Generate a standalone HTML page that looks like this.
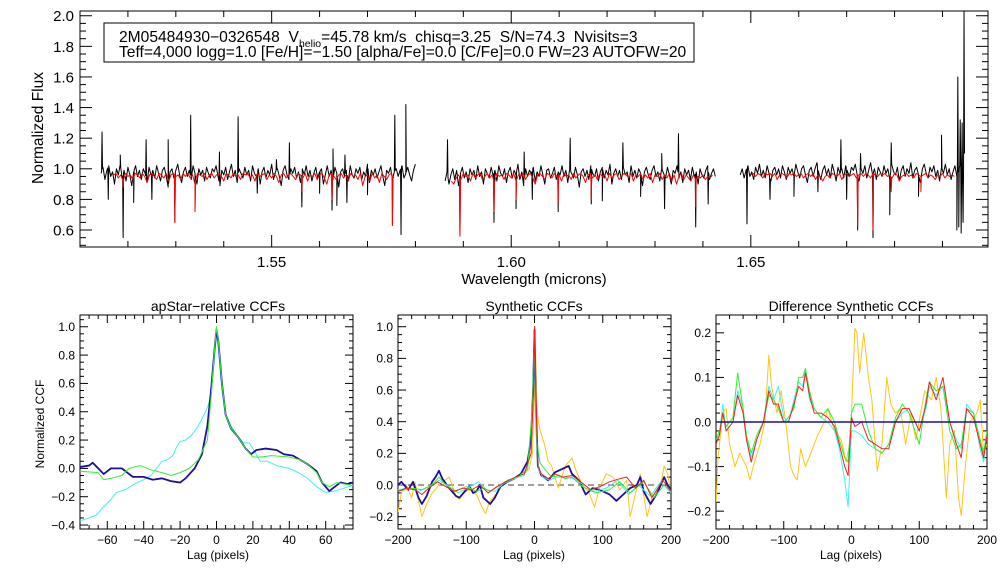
<!DOCTYPE html>
<html><head><meta charset="utf-8"><style>
html,body{margin:0;padding:0;background:#fff;}
svg{display:block;font-family:"Liberation Sans",sans-serif;}
</style></head><body>
<svg id="c" width="1008" height="576" viewBox="0 0 1008 576"></svg>
<script>
// ---------- Spectrum data (step in microns per chip) ----------
const blackStep=0.0004, redStep=0.0005;
const chip1Start=1.5144, chip1Black=[0.97,1.01,0.93,0.99,1.02,0.95,0.98,0.90,1.00,0.96,1.03,0.94,0.99,0.92,1.01,
0.96,0.89,0.98,1.02,0.95,0.99,0.93,1.00,0.97,0.91,1.01,0.96,0.99,0.94,1.02,
0.97,0.92,0.99,1.01,0.95,0.88,0.98,1.00,0.94,0.99,1.03,0.96,0.91,0.98,1.01,
0.95,0.99,0.93,1.02,0.97,0.90,1.00,0.96,0.99,0.92,1.01,0.97,0.94,1.00,0.98,
1.02,0.95,0.89,0.99,0.96,1.01,0.93,0.98,1.03,0.95,0.99,0.91,1.00,0.97,0.94,
1.01,0.96,0.99,0.92,1.02,0.97,0.95,1.00,0.90,0.98,1.01,0.94,0.99,0.96,1.03,
0.93,0.98,1.00,0.95,0.89,0.99,1.02,0.96,0.93,1.00,0.97,1.01,0.94,0.98,0.91,
1.00,0.96,1.02,0.95,0.99,0.92,0.97,1.01,0.94,0.98,1.00,0.90,0.96,1.02,0.95,
0.99,0.93,1.01,0.97,0.88,0.98,1.00,0.95,0.99,0.92,1.02,0.96,0.94,1.00,0.97,
1.01,0.93,0.98,0.95,1.03,0.91,0.99,0.96,1.00,0.94,0.98,1.02,0.95,0.89,0.99,
0.97,1.01,0.93,0.98,1.00,0.95,0.99,1.02,0.94,0.97,1.01,0.96,0.92,0.99,1.03];
const chip1RedStart=1.517, chip1Red=[0.96,0.97,0.94,0.96,0.92,0.97,0.95,0.96,0.93,0.97,0.96,0.94,0.97,0.95,0.91,
0.96,0.97,0.95,0.93,0.97,0.96,0.94,0.97,0.92,0.96,0.97,0.95,0.96,0.93,0.97,
0.95,0.97,0.94,0.96,0.90,0.97,0.96,0.95,0.97,0.93,0.96,0.97,0.94,0.96,0.97,
0.95,0.92,0.97,0.96,0.94,0.97,0.95,0.96,0.93,0.97,0.96,0.97,0.94,0.96,0.92,
0.97,0.95,0.96,0.97,0.93,0.96,0.94,0.97,0.95,0.91,0.96,0.97,0.94,0.96,0.97,
0.95,0.93,0.97,0.96,0.94,0.97,0.92,0.96,0.95,0.97,0.93,0.96,0.97,0.94,0.90,
0.96,0.97,0.95,0.93,0.96,0.97,0.94,0.96,0.92,0.97,0.95,0.96,0.93,0.97,0.89,
0.95,0.96,0.92,0.97,0.94,0.96,0.91,0.97,0.95,0.93,0.96,0.97,0.94];
const chip2Start=1.5862, chip2Black=[0.92,0.98,0.90,0.96,1.00,0.93,0.99,0.89,0.97,1.01,0.94,0.98,0.91,1.00,0.96,
0.99,0.93,1.02,0.95,0.98,0.90,1.00,0.97,0.94,1.01,0.96,0.99,0.92,1.02,0.97,
0.95,1.00,0.91,0.98,1.01,0.94,0.99,0.96,1.03,0.93,0.98,0.89,1.00,0.95,0.99,
0.97,1.01,0.92,0.98,0.95,1.02,0.96,0.90,0.99,1.00,0.94,0.97,1.01,0.93,0.98,
0.96,1.02,0.95,0.99,0.91,1.00,0.97,0.94,1.01,0.96,0.88,0.98,1.00,0.95,0.99,
0.93,1.02,0.97,0.95,1.00,0.92,0.98,1.01,0.94,0.99,0.96,1.03,0.90,0.97,1.00,
0.95,0.99,0.93,1.01,0.96,0.98,0.91,1.02,0.95,0.99,0.94,1.00,0.97,0.89,0.98,
1.01,0.96,0.93,0.99,1.02,0.95,0.98,0.92,1.00,0.97,0.94,1.01,0.96,0.90,0.99,
0.97,1.02,0.94,0.98,0.91,1.00,0.96,0.99,0.93,1.01,0.95,0.98,0.90,1.00,0.96,
0.94,0.99,1.02,0.93,0.97,1.00,0.95];
const chip2RedStart=1.5875, chip2Red=[0.92,0.90,0.94,0.96,0.93,0.97,0.95,0.96,0.92,0.97,0.94,0.96,0.97,0.93,0.95,
0.97,0.94,0.96,0.91,0.97,0.95,0.96,0.93,0.97,0.96,0.94,0.97,0.92,0.96,0.95,
0.97,0.93,0.96,0.97,0.94,0.90,0.96,0.97,0.95,0.93,0.97,0.96,0.94,0.97,0.95,
0.96,0.92,0.97,0.95,0.96,0.93,0.97,0.94,0.96,0.97,0.95,0.91,0.96,0.97,0.94,
0.96,0.93,0.97,0.95,0.96,0.92,0.97,0.94,0.96,0.97,0.93,0.95,0.97,0.96,0.94,
0.97,0.92,0.96,0.95,0.97,0.93,0.96,0.94,0.97,0.91,0.96,0.95,0.97,0.93,0.96,
0.94,0.97,0.92,0.96,0.90,0.95,0.97,0.93,0.96,0.94,0.92,0.96,0.93,0.95,0.94,
0.96,0.93,0.95,0.94,0.96];
const chip3Start=1.6478, chip3Black=[0.96,1.00,0.94,0.99,1.02,0.95,0.98,0.93,1.01,0.97,1.03,0.95,0.99,0.94,1.02,
0.97,0.92,0.99,1.01,0.96,1.00,0.94,1.02,0.98,0.93,1.01,0.97,1.00,0.95,1.03,
0.98,0.94,1.00,1.02,0.96,0.91,0.99,1.01,0.95,1.00,1.04,0.97,0.93,0.99,1.02,
0.96,1.00,0.94,1.03,0.98,0.92,1.01,0.97,1.00,0.94,1.02,0.98,0.95,1.01,0.99,
1.03,0.96,0.92,1.00,0.97,1.02,0.94,0.99,1.04,0.96,1.00,0.93,1.01,0.98,0.95,
1.02,0.97,1.00,0.93,1.03,0.98,0.96,1.01,0.92,0.99,1.02,0.95,1.00,0.97,1.04,
0.94,0.99,1.01,0.96,0.91,1.00,1.03,0.97,0.94,1.01,0.98,1.02,0.95,0.99,0.92,
1.01,0.97,1.03,0.96,1.00,0.93,0.98,1.02,0.95,0.99,1.05,0.90,1.10];
const chip3RedStart=1.6500, chip3Red=[0.96,0.97,0.95,0.97,0.96,0.94,0.97,0.96,0.97,0.95,0.97,0.93,0.96,0.97,0.96,
0.94,0.97,0.96,0.97,0.95,0.96,0.97,0.94,0.96,0.97,0.95,0.97,0.93,0.96,0.95,
0.92,0.95,0.96,0.94,0.97,0.96,0.95,0.97,0.93,0.96,0.97,0.95,0.96,0.97,0.94,
0.96,0.97,0.95,0.97,0.96,0.94,0.97,0.96,0.95,0.97,0.96,0.97,0.95,0.96,0.94,
0.97,0.96,0.92,0.95,0.96,0.97,0.95,0.96,0.94,0.97,0.96,0.95,0.96,0.97,0.94,
0.96,0.95,0.93,0.96,0.95,0.97,0.94,0.96,0.95,0.96,0.95];
const blackFeatures=[[1.5146,1.24],[1.5159,0.80],[1.5184,1.09],[1.5190,0.55],[1.5212,0.78],[1.5238,1.19],[1.5250,0.80],[1.5284,1.19],[1.5298,0.65],[1.5331,1.35],[1.5340,0.72],[1.5391,1.11],[1.5430,1.34],[1.5470,0.84],[1.5510,1.06],[1.5537,1.17],[1.5563,0.75],[1.5600,0.84],[1.5626,0.73],[1.5628,1.13],[1.5636,0.76],[1.5653,1.09],[1.5657,0.78],[1.5700,0.83],[1.5752,0.63],[1.5757,1.35],[1.5770,0.57],[1.5780,1.42],
[1.5867,1.19],[1.5893,0.56],[1.5964,0.65],[1.6010,0.74],[1.6027,1.11],[1.6044,0.80],[1.6098,0.72],[1.6123,1.20],[1.6167,0.77],[1.6190,0.79],[1.6233,1.17],[1.6270,0.82],[1.6314,1.10],[1.6320,0.74],[1.6385,0.62],[1.6349,1.23],[1.6411,0.77],
[1.6476,1.29],[1.6492,0.64],[1.6540,0.80],[1.6590,0.82],[1.6640,0.85],[1.6688,1.19],[1.6700,0.80],[1.6723,0.60],[1.6729,1.10],[1.6755,0.55],[1.6790,0.70],[1.6793,1.17],[1.6850,0.82],[1.6898,1.22],[1.6930,0.60],[1.6932,1.60],[1.6934,0.62],[1.6937,1.32],[1.6939,0.58],[1.6941,1.30],[1.6943,0.65],[1.6945,2.03]];
const redFeatures=[[1.5190,0.88],[1.5298,0.65],[1.5340,0.72],[1.5563,0.85],[1.5626,0.80],[1.5752,0.63],[1.5770,0.60],[1.5893,0.56],[1.5964,0.72],[1.6010,0.80],[1.6098,0.78],[1.6167,0.80],[1.6385,0.75],[1.6723,0.63],[1.6755,0.60],[1.6793,0.85],[1.6855,0.85]];

// ---------- CCF data ----------
const p1NavyLag=[-75,-70,-68,-65,-62,-58,-52,-50,-46,-40,-35,-30,-25,-20,-17,-12,-8,-5,-3,-1,0,1,3,5,8,12,16,19,22,27,33,37,42,46,50,55,58,62,64,68,72,75];
const p1NavyVal=[0.01,0.02,0.04,0.0,-0.04,0.0,0.0,-0.02,-0.06,-0.06,-0.08,-0.07,-0.09,-0.1,-0.07,0.0,0.1,0.3,0.55,0.85,0.98,0.9,0.6,0.38,0.28,0.22,0.14,0.1,0.13,0.14,0.13,0.1,0.09,0.06,0.03,-0.02,-0.1,-0.16,-0.14,-0.1,-0.11,-0.1];
const p1GreenLag=[-75,-65,-62,-58,-52,-48,-42,-36,-30,-25,-20,-15,-10,-5,-3,-1,0,1,3,5,8,12,16,20,25,30,40,46,50,55,58,62,66,70,75];
const p1GreenVal=[-0.02,-0.03,-0.08,-0.07,-0.05,0.0,0.02,-0.01,-0.03,-0.05,-0.03,0.0,0.06,0.2,0.5,0.85,1.0,0.9,0.6,0.38,0.28,0.22,0.14,0.08,0.08,0.09,0.08,0.06,0.03,-0.03,-0.1,-0.13,-0.1,-0.11,-0.12];
const p1CyanLag=[-75,-70,-66,-62,-58,-55,-50,-45,-40,-36,-33,-30,-27,-24,-22,-20,-17,-14,-10,-6,-3,-1,0,1,3,5,8,12,15,18,21,24,28,33,40,45,50,55,60,65,70,75];
const p1CyanVal=[-0.37,-0.35,-0.33,-0.27,-0.22,-0.17,-0.15,-0.11,-0.08,-0.05,0.0,0.05,0.06,0.09,0.15,0.19,0.2,0.23,0.3,0.4,0.5,0.8,0.95,0.85,0.55,0.38,0.3,0.22,0.18,0.18,0.12,0.05,0.05,0.02,0.0,-0.03,-0.07,-0.13,-0.17,-0.16,-0.14,-0.12];

const p2NavyLag=[-200,-195,-185,-178,-170,-165,-158,-150,-145,-140,-135,-125,-115,-110,-100,-95,-90,-85,-80,-75,-65,-58,-50,-40,-30,-20,-10,-5,-2,0,2,5,10,20,30,40,50,55,65,75,85,95,100,110,120,130,140,150,155,160,170,180,190,195,200];
const p2NavyVal=[0.0,0.02,-0.03,0.02,-0.08,-0.12,-0.07,0.02,0.05,0.09,0.04,-0.02,-0.07,-0.08,-0.03,-0.01,-0.05,-0.04,0.0,-0.08,-0.12,-0.08,-0.01,0.02,0.04,0.07,0.15,0.3,0.6,0.98,0.5,0.12,0.06,0.03,0.08,0.1,0.12,0.07,0.03,-0.06,-0.02,-0.03,-0.04,-0.06,-0.1,-0.06,-0.02,0.0,0.05,-0.04,-0.12,-0.05,0.05,0.0,-0.03];
const p2GreenLag=[-200,-180,-165,-150,-140,-130,-115,-100,-85,-75,-65,-50,-40,-25,-10,-3,0,3,8,15,25,35,45,55,70,90,110,125,140,160,175,190,200];
const p2GreenVal=[-0.04,-0.02,-0.03,0.0,0.05,0.0,-0.04,-0.01,-0.04,-0.02,-0.04,0.0,0.03,0.05,0.1,0.5,1.0,0.3,0.14,0.1,0.05,0.06,0.04,0.05,-0.01,-0.05,-0.03,0.02,-0.05,0.02,-0.08,0.0,-0.04];
const p2CyanLag=[-200,-185,-170,-155,-140,-128,-112,-98,-82,-70,-58,-45,-30,-15,-5,-2,0,2,6,12,22,32,45,58,72,88,105,122,138,152,170,185,200];
const p2CyanVal=[-0.03,-0.02,-0.04,-0.01,0.03,0.0,-0.05,-0.02,0.02,-0.03,-0.04,0.01,0.04,0.06,0.2,0.6,0.98,0.35,0.1,0.05,0.03,0.05,0.05,0.04,0.0,-0.04,-0.02,0.03,-0.06,0.0,-0.07,0.02,-0.05];
const p2RedLag=[-200,-188,-175,-165,-155,-142,-130,-118,-105,-92,-80,-68,-55,-42,-28,-15,-5,-2,0,2,5,10,20,30,42,55,68,82,96,110,125,135,148,160,172,188,200];
const p2RedVal=[-0.04,-0.02,-0.03,-0.06,-0.02,0.02,-0.01,-0.04,-0.02,-0.03,0.0,-0.05,-0.01,0.02,0.05,0.07,0.2,0.55,1.0,0.55,0.12,0.07,0.04,0.07,0.05,0.06,0.02,-0.03,-0.01,0.02,0.04,0.05,-0.02,0.03,-0.08,0.03,-0.04];
const p2GoldLag=[-200,-195,-188,-180,-175,-170,-165,-158,-150,-140,-125,-115,-110,-105,-95,-85,-78,-72,-65,-55,-45,-35,-25,-15,-8,-3,0,1,3,5,8,15,20,25,30,35,45,55,60,70,80,88,95,105,115,125,135,140,150,155,165,172,185,190,195,200];
const p2GoldVal=[-0.17,-0.05,0.0,-0.08,0.02,-0.1,-0.2,-0.12,-0.05,0.0,0.05,-0.07,-0.09,-0.05,-0.03,-0.06,-0.13,-0.18,-0.1,-0.05,0.02,0.03,0.06,0.07,0.1,0.2,0.6,1.0,0.55,0.42,0.35,0.25,0.15,0.12,0.05,-0.02,0.12,0.17,0.1,0.0,-0.05,-0.14,-0.02,0.07,0.05,-0.03,0.03,-0.2,-0.02,0.07,-0.2,-0.08,0.0,0.12,0.07,-0.05];

const p3Lag=[-200,-195,-190,-185,-175,-168,-160,-155,-148,-140,-130,-122,-115,-108,-100,-93,-85,-78,-72,-68,-62,-55,-45,-35,-25,-18,-10,-5,0,5,15,25,35,45,55,65,75,85,100,110,115,125,135,145,155,162,170,180,190,195,200];
const p3RedVal=[-0.05,-0.03,0.02,-0.02,0.0,0.06,0.02,-0.04,-0.09,-0.04,0.0,0.07,0.04,0.04,0.0,0.0,0.04,0.08,0.07,0.11,0.06,0.02,0.02,0.01,-0.01,-0.05,-0.1,-0.12,0.01,-0.01,0.0,-0.04,-0.05,-0.06,-0.06,0.0,0.03,0.03,-0.02,0.04,0.09,0.05,0.1,0.0,-0.05,-0.08,0.03,0.01,-0.05,-0.08,-0.03];
const p3GreenVal=[-0.04,-0.02,0.02,-0.01,0.01,0.11,0.03,-0.03,-0.07,-0.03,0.0,0.06,0.05,0.03,0.0,0.01,0.03,0.1,0.1,0.12,0.07,0.03,0.01,0.03,0.0,-0.04,-0.08,-0.09,0.02,0.04,0.04,-0.02,-0.06,-0.07,-0.05,0.01,0.04,0.02,-0.05,0.05,0.09,0.07,0.08,-0.02,-0.06,-0.05,0.03,0.02,-0.04,-0.07,-0.02];
const p3CyanVal=[-0.04,-0.03,0.04,-0.02,0.0,0.07,0.03,-0.04,-0.08,-0.04,0.0,0.08,0.05,0.08,0.01,0.0,0.05,0.09,0.08,0.12,0.05,0.03,0.01,0.0,-0.02,-0.06,-0.13,-0.19,-0.02,-0.02,-0.03,-0.05,-0.06,-0.07,-0.05,0.0,0.02,0.03,-0.02,0.03,0.08,0.06,0.08,0.0,-0.04,-0.06,0.04,0.02,-0.06,-0.09,-0.03];
const p3NavyVal=[0,0];
const p3NavyLag=[-200,200];
const p3GoldLag=[-200,-197,-190,-185,-180,-172,-165,-155,-150,-145,-135,-128,-122,-118,-110,-104,-97,-90,-85,-80,-75,-68,-60,-50,-40,-35,-25,-15,-8,-3,0,5,8,12,18,25,30,38,45,52,58,65,72,80,88,95,108,118,125,132,140,145,152,158,162,168,175,185,190,195,200];
const p3GoldVal=[-0.18,-0.08,0.02,0.03,-0.05,-0.1,-0.07,-0.1,-0.13,-0.1,-0.05,0.0,0.15,0.08,0.02,0.07,0.0,-0.1,-0.12,-0.13,-0.06,-0.1,-0.07,-0.03,0.0,0.03,-0.02,-0.04,-0.09,-0.05,0.02,0.21,0.2,0.11,0.2,0.1,0.05,-0.11,-0.05,0.1,0.04,0.02,0.03,-0.05,0.02,-0.04,0.07,0.05,0.1,0.03,-0.17,-0.05,-0.02,-0.17,-0.21,-0.1,0.0,0.02,0.05,-0.07,-0.05];

const NS='http://www.w3.org/2000/svg';
const svgRoot=document.getElementById('c');
function el(tag,attrs,parent,text){const e=document.createElementNS(NS,tag);for(const k in attrs)e.setAttribute(k,attrs[k]);if(text!==undefined)e.textContent=text;(parent||svgRoot).appendChild(e);return e;}

function axes(p){
  const sx=v=>p.x0+(v-p.xmin)/(p.xmax-p.xmin)*(p.x1-p.x0);
  const sy=v=>p.y1-(v-p.ymin)/(p.ymax-p.ymin)*(p.y1-p.y0);
  const g=el('g',{});
  
  
  el('rect',{x:p.x0,y:p.y0,width:p.x1-p.x0,height:p.y1-p.y0,fill:'none',stroke:'#000','stroke-width':1},g);
  const eps=1e-9;
  const nx0=Math.ceil((p.xmin-eps)/p.xminor), nx1=Math.floor((p.xmax+eps)/p.xminor);
  for(let n=nx0;n<=nx1;n++){
    const v=n*p.xminor;
    const isMaj=Math.abs(v/p.xmajor-Math.round(v/p.xmajor))<1e-6;const L=isMaj?p.tl:p.tl/2;const x=sx(v);
    el('line',{x1:x,y1:p.y1,x2:x,y2:p.y1-L,stroke:'#000'},g);el('line',{x1:x,y1:p.y0,x2:x,y2:p.y0+L,stroke:'#000'},g);
    if(isMaj){const s=(Math.abs(v)<1e-9?0:v).toFixed(p.xdec).replace('-','\u2212');const t=el('text',{x:x,y:p.y1+p.xlo,'text-anchor':'middle','font-size':p.fs},g,s);
      
      }
  }
  const ny0=Math.ceil((p.ymin-eps)/p.yminor), ny1=Math.floor((p.ymax+eps)/p.yminor);
  for(let n=ny0;n<=ny1;n++){
    const v=n*p.yminor;
    const isMaj=Math.abs(v/p.ymajor-Math.round(v/p.ymajor))<1e-6;const L=isMaj?p.tl:p.tl/2;const y=sy(v);
    el('line',{x1:p.x0,y1:y,x2:p.x0+L,y2:y,stroke:'#000'},g);el('line',{x1:p.x1,y1:y,x2:p.x1-L,y2:y,stroke:'#000'},g);
    if(isMaj&&(p.ylabMin===undefined||v>=p.ylabMin-eps)){const s=(Math.abs(v)<1e-9?0:v).toFixed(p.ydec).replace('-','\u2212');const t=el('text',{x:p.x0-p.ylo,y:y+p.fs*0.36,'text-anchor':'end','font-size':p.fs},g,s);
      
      }
  }
  return {sx,sy};
}
function line(ax,xs,ys,color,w,name,clip){
  const d=xs.map((x,i)=>(i?'L':'M')+ax.sx(x).toFixed(2)+','+ax.sy(ys[i]).toFixed(2)).join('');
  const e=el('path',{d:d,fill:'none',stroke:color,'stroke-width':w,'stroke-linejoin':'round','clip-path':'url(#'+clip+')'});
  
  
  return e;
}
const defs=el('defs',{});
function clipRect(id,x0,y0,x1,y1){const c=el('clipPath',{id:id},defs);el('rect',{x:x0,y:y0,width:x1-x0,height:y1-y0},c);}

// ---------- Top spectrum ----------
const topCfg={name:'spectrum',x0:80,x1:988,y0:11,y1:247,xmin:1.510,xmax:1.6995,ymin:0.489,ymax:2.031,xmajor:0.05,xminor:0.01,ymajor:0.2,yminor:0.05,tl:12,fs:15,xlo:20,ylo:6,xdec:2,ydec:1,ylabMin:0.6};
clipRect('cTop',80,11,988,247);
const axT=axes(topCfg);
function chipSeries(start,vals,feats,step){
  const end=start+step*(vals.length-1);
  const base=l=>{const f=(l-start)/step;const i=Math.max(0,Math.min(vals.length-2,Math.floor(f)));const t=f-i;return vals[i]*(1-t)+vals[i+1]*t;};
  const hw=0.0001;
  let pts=vals.map((v,i)=>[start+i*step,v]);
  feats.filter(f=>f[0]>=start-1e-6&&f[0]<=end+1e-6).forEach(f=>{pts.push([f[0]-hw,base(f[0]-hw)]);pts.push(f);pts.push([Math.min(end,f[0]+hw),base(Math.min(end,f[0]+hw))]);});
  pts.sort((a,b)=>a[0]-b[0]);
  return [pts.map(p=>p[0]),pts.map(p=>p[1])];
}
[[chip1Start,chip1Black],[chip2Start,chip2Black],[chip3Start,chip3Black]].forEach((c,i)=>{const s=chipSeries(c[0],c[1],blackFeatures,blackStep);line(axT,s[0],s[1],'#000',1,'observed-spectrum-chip'+(i+1),'cTop');});
[[chip1RedStart,chip1Red],[chip2RedStart,chip2Red],[chip3RedStart,chip3Red]].forEach((c,i)=>{const s=chipSeries(c[0],c[1],redFeatures,redStep);line(axT,s[0],s[1],'#ff0000',1,'model-spectrum-chip'+(i+1),'cTop');});
let tx=el('text',{x:534,y:284,'text-anchor':'middle','font-size':15},svgRoot,'Wavelength (microns)');


tx=el('text',{x:0,y:0,'text-anchor':'middle','font-size':15.5,transform:'translate(43,128) rotate(-90)'},svgRoot,'Normalized Flux');


const box=el('g',{});


el('rect',{x:104,y:23,width:590,height:39,fill:'#fff',stroke:'#000'},box);
const t1=el('text',{x:119,y:42,'font-size':15.6},box);
el('tspan',{},t1,'2M05484930\u22120326548\u00a0\u00a0V');
el('tspan',{'font-size':10.5,dy:5},t1,'helio');
el('tspan',{dy:-5},t1,'=45.78 km/s\u00a0\u00a0chisq=3.25\u00a0\u00a0S/N=74.3\u00a0\u00a0Nvisits=3');
el('text',{x:119,y:57,'font-size':15.6},box,'Teff=4,000 logg=1.0 [Fe/H]=\u22121.50 [alpha/Fe]=0.0 [C/Fe]=0.0 FW=23 AUTOFW=20');

// ---------- Bottom panels ----------
function title(x,s){const e=el('text',{x:x,y:311,'text-anchor':'middle','font-size':14},svgRoot,s);
  
  }
function xlab(x){const e=el('text',{x:x,y:559,'text-anchor':'middle','font-size':12},svgRoot,'Lag (pixels)');
  
  }
const NAVY='#1e0f96',GREEN='#30f030',CYAN='#40f0f0',RED='#f02020',GOLD='#ffc418';
const p1={name:'apstar-ccf',x0:80,x1:353,y0:315,y1:529,xmin:-75,xmax:75,ymin:-0.428,ymax:1.083,xmajor:20,xminor:5,ymajor:0.2,yminor:0.05,tl:8,fs:12,xlo:15,ylo:5,xdec:0,ydec:1};
clipRect('c1',80,315,353,529);const ax1=axes(p1);
line(ax1,p1CyanLag,p1CyanVal,CYAN,1,'cyan-ccf','c1');
line(ax1,p1NavyLag,p1NavyVal,NAVY,1.8,'navy-ccf','c1');
line(ax1,p1GreenLag,p1GreenVal,GREEN,1,'green-ccf','c1');
title(218,'apStar\u2212relative CCFs');xlab(218);
tx=el('text',{x:0,y:0,'text-anchor':'middle','font-size':12,transform:'translate(44,424) rotate(-90)'},svgRoot,'Normalized CCF');



const p2={name:'synthetic-ccf',x0:398,x1:671,y0:315,y1:529,xmin:-200,xmax:200,ymin:-0.278,ymax:1.074,xmajor:100,xminor:20,ymajor:0.2,yminor:0.05,tl:8,fs:12,xlo:15,ylo:5,xdec:0,ydec:1};
clipRect('c2',398,315,671,529);const ax2=axes(p2);
const zl=el('line',{x1:398,x2:671,y1:ax2.sy(0),y2:ax2.sy(0),stroke:'#666','stroke-width':1.2,'stroke-dasharray':'6,4'});


line(ax2,p2GoldLag,p2GoldVal,GOLD,1,'gold-ccf','c2');
line(ax2,p2NavyLag,p2NavyVal,NAVY,1.8,'navy-ccf','c2');
line(ax2,p2CyanLag,p2CyanVal,CYAN,1,'cyan-ccf','c2');
line(ax2,p2GreenLag,p2GreenVal,GREEN,1,'green-ccf','c2');
line(ax2,p2RedLag,p2RedVal,RED,1,'red-ccf','c2');
title(534,'Synthetic CCFs');xlab(534);

const p3={name:'difference-ccf',x0:716,x1:987,y0:315,y1:529,xmin:-200,xmax:200,ymin:-0.24,ymax:0.24,xmajor:100,xminor:20,ymajor:0.1,yminor:0.02,tl:8,fs:12,xlo:15,ylo:5,xdec:0,ydec:1};
clipRect('c3',716,315,987,529);const ax3=axes(p3);
line(ax3,p3GoldLag,p3GoldVal,GOLD,1,'gold-diff','c3');
line(ax3,p3Lag,p3CyanVal,CYAN,1,'cyan-diff','c3');
line(ax3,p3Lag,p3GreenVal,GREEN,1,'green-diff','c3');
line(ax3,p3Lag,p3RedVal,RED,1,'red-diff','c3');
line(ax3,p3NavyLag,p3NavyVal,NAVY,1.5,'navy-diff','c3');
title(851,'Difference Synthetic CCFs');xlab(851);
</script>
</body></html>
